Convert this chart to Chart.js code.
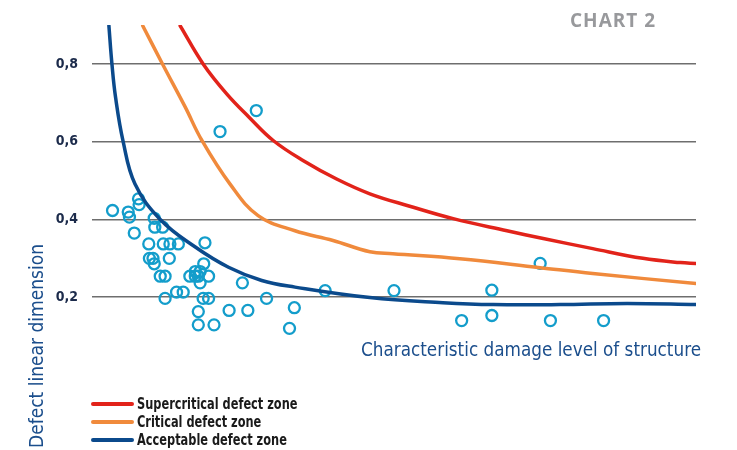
<!DOCTYPE html>
<html>
<head>
<meta charset="utf-8">
<title>Chart 2</title>
<script src="https://cdn.jsdelivr.net/npm/chart.js@4/dist/chart.umd.min.js"></script>
<style>
  html, body { margin: 0; padding: 0; background: #fff; }
  #wrap { position: relative; width: 737px; height: 450px; }
</style>
</head>
<body>
<div id="wrap"><canvas id="chart2"></canvas></div>
<script>
// Data (x in arbitrary damage-level units, 0..100)
const yTicks = [0.2, 0.4, 0.6, 0.8];

const supercriticalX = [14.6, 18.4, 22.3, 26.0, 30.0, 35.0, 40.5, 46.0, 52.6, 59.8, 68.7, 74.7, 82.9, 91.2, 97.4, 100];
const supercriticalY = [0.898, 0.800, 0.723, 0.663, 0.603, 0.551, 0.504, 0.466, 0.434, 0.402, 0.371, 0.351, 0.325, 0.300, 0.289, 0.287];

const criticalX = [8.4, 11.8, 15.4, 18.2, 22.8, 27.5, 33.6, 39.9, 46.0, 49.8, 60.9, 74.2, 82.9, 100];
const criticalY = [0.898, 0.796, 0.690, 0.603, 0.492, 0.410, 0.371, 0.346, 0.317, 0.312, 0.299, 0.276, 0.261, 0.235];

const acceptableX = [2.8, 3.3, 3.9, 5.15, 7.1, 11.3, 17.1, 22.6, 28.1, 33.6, 46.0, 58.1, 66.4, 77.5, 88.6, 100];
const acceptableY = [0.898, 0.800, 0.714, 0.601, 0.492, 0.400, 0.329, 0.277, 0.243, 0.226, 0.199, 0.186, 0.181, 0.181, 0.184, 0.181];

const defectX = [3.4, 6.0, 6.2, 7.7, 7.8, 10.3, 10.4, 11.7, 7.0, 9.4, 11.8, 12.9, 14.3, 18.7,
  9.5, 10.1, 10.3, 12.8, 11.3, 12.1, 18.5, 16.2, 17.1, 17.6, 17.9, 19.3, 17.9, 14.0, 15.1,
  12.1, 18.4, 19.3, 17.6, 17.6, 20.2, 21.2, 27.2, 24.9, 22.7, 25.8, 28.9, 32.7, 33.5,
  38.6, 50.0, 61.2, 66.2, 66.2, 74.2, 75.9, 84.7, 17.1];
const defectY = [0.423, 0.419, 0.406, 0.453, 0.438, 0.403, 0.380, 0.380, 0.365, 0.337, 0.337, 0.337, 0.337, 0.340,
  0.300, 0.300, 0.286, 0.300, 0.254, 0.254, 0.286, 0.254, 0.266, 0.254, 0.266, 0.254, 0.237, 0.213, 0.213,
  0.197, 0.197, 0.197, 0.163, 0.129, 0.129, 0.626, 0.680, 0.237, 0.166, 0.166, 0.197, 0.120, 0.173,
  0.217, 0.217, 0.140, 0.218, 0.153, 0.287, 0.140, 0.140, 0.254];

const seriesLabels = ['Supercritical defect zone', 'Critical defect zone', 'Acceptable defect zone'];

const toPoints = (xs, ys) => xs.map((x, i) => ({ x: x, y: ys[i] }));

const NAVY_TEXT = '#1b4e8c';
const condensed = '"Liberation Sans Narrow", "DejaVu Sans Condensed", "Roboto", sans-serif';

function lineSet(label, xs, ys, color) {
  return {
    label: label,
    data: toPoints(xs, ys),
    showLine: true,
    borderColor: color,
    backgroundColor: color,
    borderWidth: 3.5,
    borderCapStyle: 'round',
    pointRadius: 0,
    tension: 0.4,
    order: 1
  };
}

// squeeze text horizontally, the original uses a narrow face
function narrowText(c, txt, x, y, squeeze) {
  const w = c.measureText(txt).width;
  c.fillText(txt, x, y, w * squeeze);
}

// texts that sit outside Chart.js's own boxes: header, axis titles, legend
const decorations = {
  id: 'decorations',
  beforeDraw(chart) {
    const c = chart.ctx;
    c.save();
    c.fillStyle = '#fff';
    c.fillRect(0, 0, chart.width, chart.height);
    c.restore();
  },
  afterDraw(chart) {
    const c = chart.ctx;
    c.save();

    c.fillStyle = '#98999c';
    c.font = 'bold 19px "Open Sans", sans-serif';
    c.letterSpacing = '1px';
    c.textAlign = 'left';
    c.textBaseline = 'middle';
    c.fillText('CHART 2', 570, 22, 92);
    c.letterSpacing = '0px';

    c.fillStyle = NAVY_TEXT;
    c.font = '19px ' + condensed;
    c.textAlign = 'right';
    c.fillText('Characteristic damage level of structure', 701, 351, 340);

    c.save();
    c.translate(38, 346);
    c.rotate(-Math.PI / 2);
    c.textAlign = 'center';
    c.fillText('Defect linear dimension', 0, 0, 204);
    c.restore();

    // legend
    const rows = [404, 422, 440];
    chart.data.datasets.slice(0, 3).forEach((ds, i) => {
      c.strokeStyle = ds.borderColor;
      c.lineWidth = 4;
      c.lineCap = 'round';
      c.beginPath();
      c.moveTo(93, rows[i]);
      c.lineTo(132, rows[i]);
      c.stroke();
      c.fillStyle = '#1a1a1a';
      c.font = 'bold 16px ' + condensed;
      c.textAlign = 'left';
      c.textBaseline = 'middle';
      narrowText(c, ds.label, 137, rows[i] + 1, 0.79);
    });
    c.restore();
  }
};

const ctx = document.getElementById('chart2').getContext('2d');
const chart2 = new Chart(ctx, {
  type: 'scatter',
  data: {
    datasets: [
      lineSet(seriesLabels[0], supercriticalX, supercriticalY, '#e2231a'),
      lineSet(seriesLabels[1], criticalX, criticalY, '#f08a3c'),
      lineSet(seriesLabels[2], acceptableX, acceptableY, '#0b4a8c'),
      {
        label: 'Defects',
        data: toPoints(defectX, defectY),
        pointStyle: 'circle',
        pointRadius: 5.5,
        borderWidth: 2.3,
        borderColor: '#139dcb',
        backgroundColor: 'rgba(255,255,255,0)',
        order: 5
      }
    ]
  },
  options: {
    responsive: true,
    maintainAspectRatio: false,
    animation: false,
    layout: { padding: { top: 25, right: 41, bottom: 75, left: 0 } },
    plugins: {
      legend: { display: false },
      tooltip: { enabled: false }
    },
    scales: {
      x: { type: 'linear', min: 0, max: 100, display: false },
      y: {
        min: 0,
        max: 0.9,
        afterBuildTicks: scale => { scale.ticks = yTicks.map(v => ({ value: v })); },
        afterFit: scale => { scale.width = 92; },
        border: { display: false },
        grid: { color: '#6e6e6e', lineWidth: 1.5, drawTicks: false },
        ticks: {
          padding: 14,
          color: '#1c2b4b',
          font: { family: condensed, size: 14, weight: 'bold' },
          callback: v => v.toFixed(1).replace('.', ',')
        }
      }
    }
  },
  plugins: [decorations]
});
</script>
</body>
</html>
